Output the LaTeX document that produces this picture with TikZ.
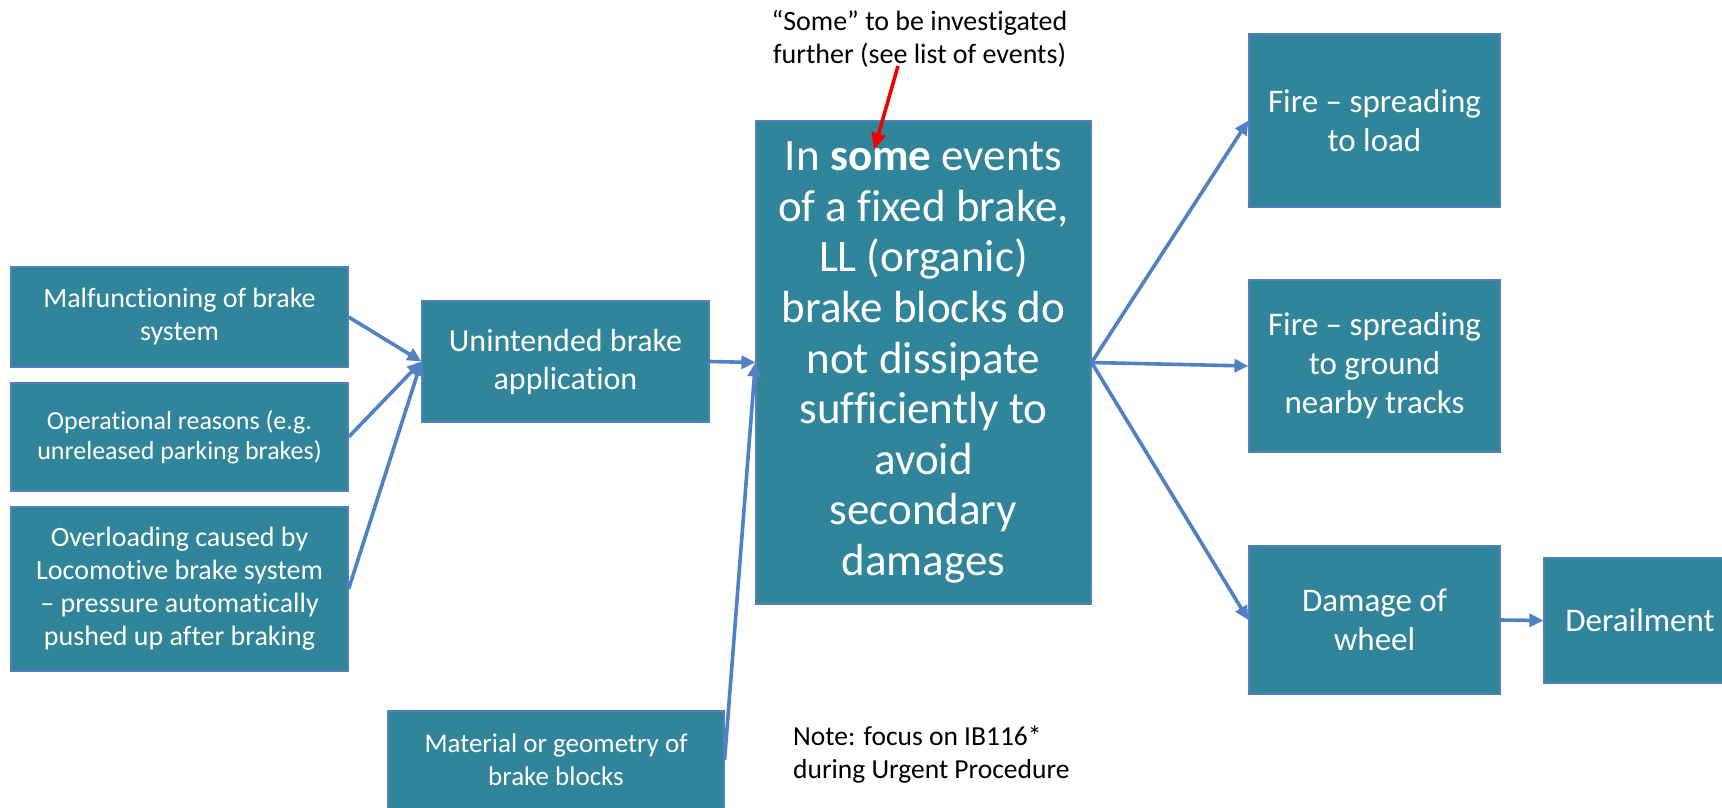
\documentclass[tikz,border=0pt]{standalone}
\usepackage{fontspec}
\setmainfont{Carlito}[Ligatures=NoCommon]
\usetikzlibrary{arrows.meta}
\definecolor{boxfill}{RGB}{49,133,155}
\definecolor{boxedge}{RGB}{79,129,189}
\definecolor{arr}{RGB}{79,129,196}
\definecolor{redarr}{RGB}{240,0,0}
\begin{document}
\begin{tikzpicture}[x=1pt,y=-1pt,
  box/.style={fill=boxfill, draw=boxedge, line width=1.2pt, text=white, align=center, inner sep=0pt},
  fsmall/.style={font=\fontsize{28}{33}\selectfont},
  conn/.style={draw=arr, line width=3.6pt, -{Triangle[length=14pt,width=13pt]}},
  plain/.style={text=black, inner sep=0pt, font=\fontsize{27.5}{33}\selectfont}
]
\useasboundingbox (0,0) rectangle (1722,808);

\node[box, fsmall, minimum width=337, minimum height=100] (mal) at (179.5,317)
  {Malfunctioning of brake\\system};
\node[box, font=\fontsize{26}{30}\selectfont, minimum width=337, minimum height=108] (ope) at (179.5,437)
  {Operational reasons (e.g.\\unreleased parking brakes)};
\node[box, fsmall, minimum width=337, minimum height=164] (ovl) at (179.5,589)
  {Overloading caused by\\Locomotive brake system\\– pressure automatically\\pushed up after braking};
\node[box, font=\fontsize{32}{38}\selectfont, minimum width=287, minimum height=121] (uni) at (565.5,361.5)
  {Unintended brake\\application};
\node[box, font=\fontsize{45}{50.6}\selectfont, minimum width=335, minimum height=483] (cen) at (923.5,362.5)
  {In \textbf{some} events\\of a fixed brake,\\LL (organic)\\brake blocks do\\not dissipate\\sufficiently to\\avoid\\secondary\\damages};
\node[box, font=\fontsize{27}{33}\selectfont, minimum width=336, minimum height=98] (mat) at (556,760)
  {Material or geometry of\\brake blocks};
\node[box, font=\fontsize{33}{39}\selectfont, minimum width=251, minimum height=173] (fl) at (1374.5,120.5)
  {Fire – spreading\\to load};
\node[box, font=\fontsize{33}{39}\selectfont, minimum width=251, minimum height=172] (fg) at (1374.5,366)
  {Fire – spreading\\to ground\\nearby tracks};
\node[box, font=\fontsize{33}{39}\selectfont, minimum width=251, minimum height=148] (dam) at (1374.5,620)
  {Damage of\\wheel};
\node[box, font=\fontsize{33}{39}\selectfont, minimum width=192, minimum height=125] (der) at (1640,620.5)
  {Derailment};

\node[plain, font=\fontsize{28}{33}\selectfont, align=center] (top) at (919.5,38.5)
  {“Some” to be investigated\\further (see list of events)};
\node[plain, align=left, anchor=west] (note) at (793,754.5)
  {Note: focus on IB116*\\during Urgent Procedure};

\coordinate (rs) at (898,66);
\coordinate (re) at (874,150);
\draw[draw=redarr, line width=3.6pt, -{Triangle[length=17pt,width=14pt]}] (rs) -- (re);

\draw[conn] (mal.east) -- (uni.west);
\draw[conn] (ope.east) -- (uni.west);
\draw[conn] (ovl.east) -- (uni.west);
\draw[conn] (uni.east) -- (cen.west);
\draw[conn] (mat.east) -- (cen.west);
\draw[conn] (cen.east) -- (fl.west);
\draw[conn] (cen.east) -- (fg.west);
\draw[conn] (cen.east) -- (dam.west);
\draw[conn] (dam.east) -- (der.west);
\end{tikzpicture}
\end{document}
